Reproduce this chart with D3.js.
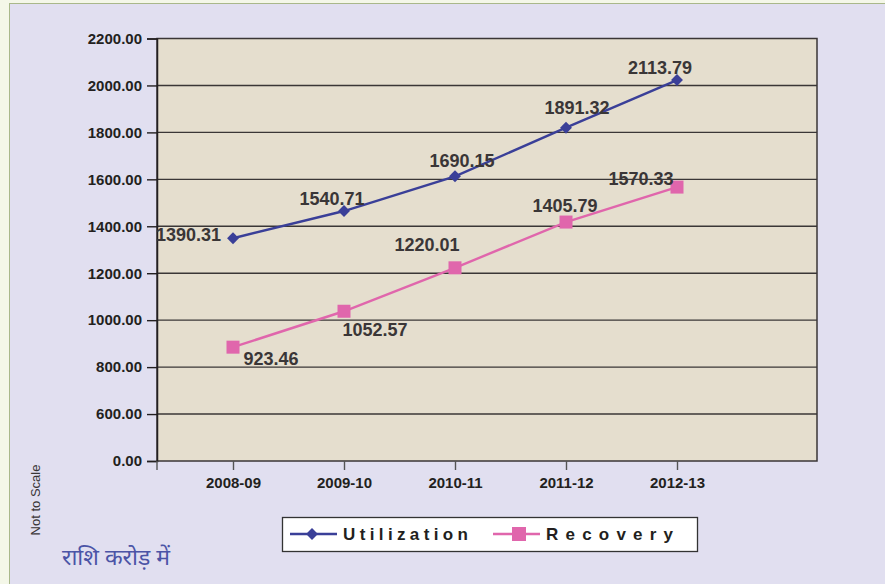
<!DOCTYPE html>
<html>
<head>
<meta charset="utf-8">
<script src="https://cdn.jsdelivr.net/npm/d3@7"></script>
<style>
  html, body { margin: 0; padding: 0; background: #f4f7e8; }
  svg { display: block; }
</style>
</head>
<body>
<div id="chart"></div>
<script>
const years = ['2008-09', '2009-10', '2010-11', '2011-12', '2012-13']
// where the points sit (chart is "Not to Scale")
const utilization = [1349, 1465, 1613, 1820, 2023]
const recovery = [885, 1038, 1223, 1418, 1567]
// what the labels say
const utilizationLabels = ['1390.31', '1540.71', '1690.15', '1891.32', '2113.79']
const recoveryLabels = ['923.46', '1052.57', '1220.01', '1405.79', '1570.33']
const yTicks = [0, 600, 800, 1000, 1200, 1400, 1600, 1800, 2000, 2200]
const seriesNames = ['Utilization', 'Recovery']

const width = 885
const height = 584

const plot = { left: 157, right: 817, top: 38.5, bottom: 461 }
const step = (plot.bottom - plot.top) / 9

const colours = { util: '#3a3f98', rec: '#e066ac', text: '#3a3637', axis: '#231f20' }

const svg = d3.select('#chart')
  .append('svg')
  .attr('width', width)
  .attr('height', height)

// panel
svg.append('rect')
  .attr('x', 9.5).attr('y', 3.5)
  .attr('width', width).attr('height', height)
  .attr('fill', '#e1dff0')
  .attr('stroke', '#a9b88a')
  .attr('stroke-width', 1)

// broken axis: 0 -> 600 takes one step, then 200 per step
const y = d3.scaleLinear()
  .domain([0, 600, 2200])
  .range([plot.bottom, plot.bottom - step, plot.top])

const x = d3.scalePoint()
  .domain(years)
  .range([233, 677])

svg.append('rect')
  .attr('x', plot.left).attr('y', plot.top)
  .attr('width', plot.right - plot.left)
  .attr('height', plot.bottom - plot.top)
  .attr('fill', '#e5dece')
  .attr('stroke', '#3a3636')
  .attr('stroke-width', 1.5)

// gridlines
svg.append('g')
  .selectAll('line')
  .data(yTicks.slice(1, -1))
  .join('line')
  .attr('x1', plot.left).attr('x2', plot.right)
  .attr('y1', d => y(d)).attr('y2', d => y(d))
  .attr('stroke', '#3a3636')
  .attr('stroke-width', 1.4)

// y axis
const yAxis = d3.axisLeft(y)
  .tickValues(yTicks)
  .tickSize(10)
  .tickPadding(5)
  .tickFormat(d => d3.format('.2f')(d))

svg.append('g')
  .attr('transform', `translate(${plot.left},0)`)
  .call(yAxis)
  .call(g => g.select('.domain').attr('stroke', colours.axis).attr('stroke-width', 1.5))
  .call(g => g.selectAll('.tick line').attr('stroke', colours.axis).attr('stroke-width', 1.4))
  .call(g => g.selectAll('.tick text')
    .attr('fill', colours.axis)
    .attr('font-family', '"Liberation Sans", Arial, sans-serif')
    .attr('font-weight', 'bold')
    .attr('font-size', 15))

// x axis
const xAxis = d3.axisBottom(x)
  .tickSize(9)
  .tickPadding(7)
  .tickSizeOuter(0)

const gx = svg.append('g')
  .attr('transform', `translate(0,${plot.bottom})`)
  .call(xAxis)
gx.select('.domain').remove()
gx.selectAll('.tick line').attr('stroke', '#555').attr('stroke-width', 1.4)
gx.selectAll('.tick text')
  .attr('fill', colours.axis)
  .attr('font-family', '"Liberation Sans", Arial, sans-serif')
  .attr('font-weight', 'bold')
  .attr('font-size', 15)
gx.append('line')
  .attr('x1', plot.left).attr('x2', plot.left)
  .attr('y1', 0).attr('y2', 9)
  .attr('stroke', '#555').attr('stroke-width', 1.4)

// lines
const line = d3.line()
  .x((d, i) => x(years[i]))
  .y(d => y(d))

svg.append('path')
  .datum(utilization)
  .attr('d', line)
  .attr('fill', 'none')
  .attr('stroke', colours.util)
  .attr('stroke-width', 2.4)

svg.append('path')
  .datum(recovery)
  .attr('d', line)
  .attr('fill', 'none')
  .attr('stroke', colours.rec)
  .attr('stroke-width', 2.4)

const diamond = d3.symbol().type(d3.symbolDiamond2).size(90)

svg.append('g')
  .selectAll('path')
  .data(utilization)
  .join('path')
  .attr('d', diamond)
  .attr('transform', (d, i) => `translate(${x(years[i])},${y(d)})`)
  .attr('fill', colours.util)

svg.append('g')
  .selectAll('rect')
  .data(recovery)
  .join('rect')
  .attr('x', (d, i) => x(years[i]) - 6.5)
  .attr('y', d => y(d) - 6.5)
  .attr('width', 13).attr('height', 13)
  .attr('fill', colours.rec)

// data labels, nudged around each point like the original
const uNudge = [[-12, 3, 'end'], [-12, -6, 'middle'], [7, -9, 'middle'], [11, -14, 'middle'], [-17, -6, 'middle']]
const rNudge = [[38, 18, 'middle'], [31, 25, 'middle'], [-28, -17, 'middle'], [-1, -10, 'middle'], [-36, -2, 'middle']]

function labels (values, texts, nudge) {
  svg.append('g')
    .selectAll('text')
    .data(values)
    .join('text')
    .attr('x', (d, i) => x(years[i]) + nudge[i][0])
    .attr('y', (d, i) => y(d) + nudge[i][1])
    .attr('text-anchor', (d, i) => nudge[i][2])
    .attr('fill', colours.text)
    .attr('font-family', '"Liberation Sans", Arial, sans-serif')
    .attr('font-weight', 'bold')
    .attr('font-size', 18)
    .text((d, i) => texts[i])
}
labels(utilization, utilizationLabels, uNudge)
labels(recovery, recoveryLabels, rNudge)

// legend
const legend = svg.append('g')
legend.append('rect')
  .attr('x', 282.5).attr('y', 517.5)
  .attr('width', 415).attr('height', 34)
  .attr('fill', '#ffffff')
  .attr('stroke', '#333')
  .attr('stroke-width', 1.3)

const legendItems = [
  { x: 290, colour: colours.util, text: seriesNames[0], len: 125 },
  { x: 493, colour: colours.rec, text: seriesNames[1], len: 127 }
]
legendItems.forEach((item, idx) => {
  legend.append('line')
    .attr('x1', item.x).attr('x2', item.x + 47)
    .attr('y1', 534).attr('y2', 534)
    .attr('stroke', item.colour)
    .attr('stroke-width', 2.4)
  if (idx === 0) {
    legend.append('path')
      .attr('d', diamond)
      .attr('transform', `translate(${item.x + 22},534)`)
      .attr('fill', item.colour)
  } else {
    legend.append('rect')
      .attr('x', item.x + 19).attr('y', 527)
      .attr('width', 14).attr('height', 14)
      .attr('fill', item.colour)
  }
  legend.append('text')
    .attr('x', item.x + 53)
    .attr('y', 540)
    .attr('textLength', item.len)
    .attr('lengthAdjust', 'spacing')
    .attr('fill', colours.axis)
    .attr('font-family', '"Liberation Sans Narrow", "Liberation Sans", Arial, sans-serif')
    .attr('font-weight', 'bold')
    .attr('font-size', 17)
    .text(item.text)
})

svg.append('text')
  .attr('transform', 'translate(40,500) rotate(-90)')
  .attr('text-anchor', 'middle')
  .attr('fill', '#3a3637')
  .attr('font-family', '"Liberation Sans", Arial, sans-serif')
  .attr('font-size', 13)
  .text('Not to Scale')

svg.append('text')
  .attr('x', 62)
  .attr('y', 565)
  .attr('fill', '#4b54a6')
  .attr('font-family', '"Noto Sans Devanagari", "Noto Sans", sans-serif')
  .attr('font-size', 23)
  .text('राशि करोड़ में')
</script>
</body>
</html>
